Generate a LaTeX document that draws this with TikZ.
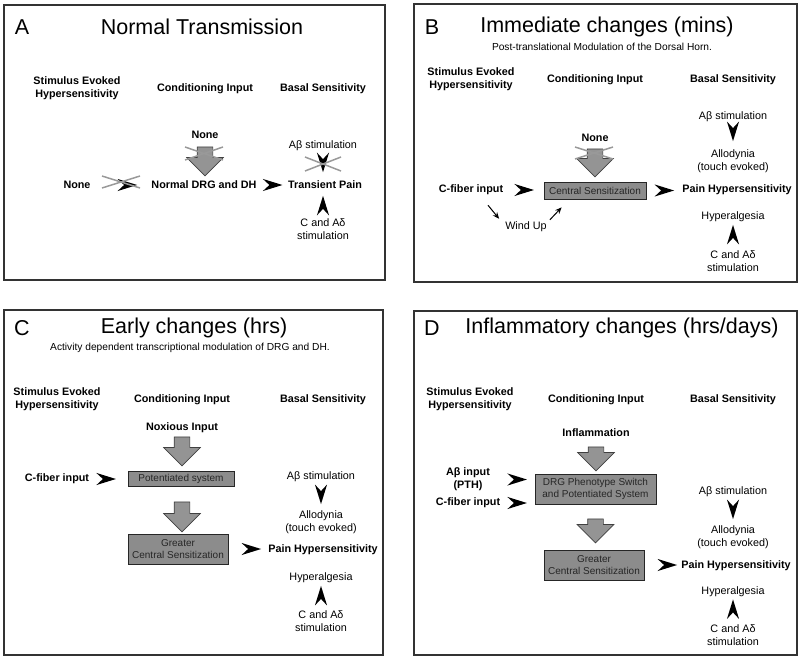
\documentclass[tikz,border=0pt]{standalone}
\usepackage{fontspec}
\setmainfont{Liberation Sans}
\usetikzlibrary{arrows.meta, shapes.arrows}

\tikzset{
	panel/.style={draw=black!80, line width=1.1pt},
	ttl/.style={font=\fontsize{21.5}{24}\selectfont, inner sep=0pt},
	subttl/.style={font=\fontsize{10.2}{12}\selectfont, inner sep=0pt},
	hdr/.style={font=\fontsize{10.8}{13}\selectfont\bfseries, align=center, inner sep=1pt},
	lbl/.style={font=\fontsize{10.8}{13}\selectfont, align=center, inner sep=1pt},
	cbox/.style={draw=black!85, fill=black!45, text=black!85, font=\fontsize{10}{12.5}\selectfont, align=center, inner sep=0pt, line width=0.8pt},
	bigarr/.style={single arrow, draw=black!75, fill=black!42, line width=0.7pt, rotate=-90, inner xsep=0pt, inner ysep=7.5pt, minimum width=36pt, minimum height=#1, single arrow head extend=10.5pt, single arrow tip angle=90},
	chev/.style={draw opacity=0, -{Stealth[length=21pt, width=13pt, inset=7pt, fill=black]}},
	smarr/.style={line width=1pt, -{Stealth[length=6.5pt, width=5.5pt]}},
	xline/.style={draw=black!40, line width=1.5pt},
}

\begin{document}
\begin{tikzpicture}[x=1pt, y=-1pt]
	\useasboundingbox (0,0) rectangle (800,661);

	% A
	\begin{scope}
		\draw[panel] (4,5) rectangle (385,280);
		\node[ttl] (a-let) at (22,27) {A};
		\node[ttl] (a-ttl) at (202,27) {Normal Transmission};
		\node[hdr] (a-sev) at (77,88.5) {Stimulus Evoked\\Hypersensitivity};
		\node[hdr] (a-cond) at (205,89) {Conditioning Input};
		\node[hdr] (a-bas) at (323,89) {Basal Sensitivity};
		\node[hdr] (a-none1) at (205,135) {None};
		\node[bigarr=29] (a-ar) at (205,157.5) {};
		\node[hdr] (a-none2) at (77,185) {None};
		\node[hdr] (a-norm) at (204,185) {Normal DRG and DH};
		\node[hdr] (a-trans) at (325,185) {Transient Pain};
		\node[lbl] (a-ab) at (323,146) {Aβ stimulation};
		\node[lbl] (a-cad) at (323,229.5) {C and Aδ\\stimulation};
		\draw[chev, shorten >=12.5pt] (a-none2) -- (a-norm);
		\draw[chev, shorten >=3.8pt] (a-norm) -- (a-trans);
		\draw[chev, shorten >=7pt] (a-ab) -- (a-ab |- a-trans.north);
		\draw[chev, shorten >=5pt] (a-cad) -- (a-cad |- a-trans.south);
		\draw[xline] (185,147) -- (223,160) (185,160) -- (223,147);
		\draw[xline] (102,176) -- (140,188) (102,188) -- (140,176);
		\draw[xline] (305,157) -- (341,171) (305,171) -- (341,157);
	\end{scope}

	% B
	\begin{scope}
		\draw[panel] (414,4) rectangle (797,282);
		\node[ttl] (b-let) at (432,27) {B};
		\node[ttl] (b-ttl) at (607,27) {Immediate changes (mins)};
		\node[subttl] (b-sub) at (602,47) {Post-translational Modulation of the Dorsal Horn.};
		\node[hdr] (b-sev) at (471,79.5) {Stimulus Evoked\\Hypersensitivity};
		\node[hdr] (b-cond) at (595,80) {Conditioning Input};
		\node[hdr] (b-bas) at (733,80) {Basal Sensitivity};
		\node[hdr] (b-none) at (595,138) {None};
		\node[bigarr=28] (b-ar) at (595,159) {};
		\node[hdr] (b-cfib) at (471,190) {C-fiber input};
		\node[cbox, minimum width=102pt, minimum height=17pt] (b-cs) at (595,190.5) {Central Sensitization};
		\node[hdr] (b-pain) at (737,190) {Pain Hypersensitivity};
		\node[lbl] (b-ab) at (733,117) {Aβ stimulation};
		\node[lbl] (b-allo) at (733,161.5) {Allodynia\\(touch evoked)};
		\node[lbl] (b-hyp) at (733,217) {Hyperalgesia};
		\node[lbl] (b-cad) at (733,261) {C and Aδ\\stimulation};
		\node[lbl] (b-wind) at (526,227) {Wind Up};
		\draw[chev, shorten >=9pt] (b-cfib) -- (b-cfib -| b-cs.west);
		\draw[chev, shorten >=6.4pt] (b-cs) -- (b-cs -| b-pain.west);
		\draw[chev, shorten >=7pt] (b-ab) -- (b-allo);
		\draw[chev, shorten >=1pt] (b-cad) -- (b-hyp);
		\draw[smarr] ([shift={(17,9)}]b-cfib.south) -- ([shift={(-5,-2)}]b-wind.north west);
		\draw[smarr] ([shift={(2,-1)}]b-wind.north east) -- ([shift={(18,8)}]b-cs.south west);
		\draw[xline] (575,147) -- (613,159) (575,159) -- (613,147);
	\end{scope}

	% C
	\begin{scope}
		\draw[panel] (4,310) rectangle (383,655);
		\node[ttl] (c-let) at (22,328) {C};
		\node[ttl] (c-ttl) at (194,328) {Early changes (hrs)};
		\node[subttl] (c-sub) at (190,348) {Activity dependent transcriptional modulation of DRG and DH.};
		\node[hdr] (c-sev) at (57,399.5) {Stimulus Evoked\\Hypersensitivity};
		\node[hdr] (c-cond) at (182,400) {Conditioning Input};
		\node[hdr] (c-bas) at (323,400) {Basal Sensitivity};
		\node[hdr] (c-nox) at (182,428) {Noxious Input};
		\node[bigarr=29] (c-ar1) at (182,447.5) {};
		\node[hdr] (c-cfib) at (57,479) {C-fiber input};
		\node[cbox, minimum width=106pt, minimum height=15pt] (c-pot) at (181,478.5) {Potentiated system};
		\node[bigarr=30] (c-ar2) at (182,513) {};
		\node[cbox, minimum width=100pt, minimum height=30pt] (c-gcs) at (178,549) {Greater\\Central Sensitization};
		\node[hdr] (c-pain) at (323,550) {Pain Hypersensitivity};
		\node[lbl] (c-ab) at (321,477) {Aβ stimulation};
		\node[lbl] (c-allo) at (321,522) {Allodynia\\(touch evoked)};
		\node[lbl] (c-hyp) at (321,578) {Hyperalgesia};
		\node[lbl] (c-cad) at (321,621.5) {C and Aδ\\stimulation};
		\draw[chev, shorten >=11pt] (c-cfib) -- (c-cfib -| c-pot.west);
		\draw[chev, shorten >=5.4pt] (c-gcs) -- (c-gcs -| c-pain.west);
		\draw[chev, shorten >=4.5pt] (c-ab) -- (c-allo);
		\draw[chev, shorten >=1pt] (c-cad) -- (c-hyp);
	\end{scope}

	% D
	\begin{scope}
		\draw[panel] (414,311) rectangle (797,655);
		\node[ttl] (d-let) at (432,328) {D};
		\node[ttl] (d-ttl) at (622,328) {Inflammatory changes (hrs/days)};
		\node[hdr] (d-sev) at (470,399.5) {Stimulus Evoked\\Hypersensitivity};
		\node[hdr] (d-cond) at (596,400) {Conditioning Input};
		\node[hdr] (d-bas) at (733,400) {Basal Sensitivity};
		\node[hdr] (d-infl) at (596,433) {Inflammation};
		\node[bigarr=24] (d-ar1) at (596,455) {};
		\node[hdr] (d-abin) at (468,479.5) {Aβ input\\(PTH)};
		\node[hdr] (d-cfib) at (468,503) {C-fiber input};
		\node[cbox, minimum width=121pt, minimum height=30pt] (d-drg) at (595.5,489) {DRG Phenotype Switch\\and Potentiated System};
		\node[bigarr=24] (d-ar2) at (595.5,527) {};
		\node[cbox, minimum width=100pt, minimum height=30pt] (d-gcs) at (594,565) {Greater\\Central Sensitization};
		\node[hdr] (d-pain) at (736,566) {Pain Hypersensitivity};
		\node[lbl] (d-ab) at (733,492) {Aβ stimulation};
		\node[lbl] (d-allo) at (733,537) {Allodynia\\(touch evoked)};
		\node[lbl] (d-hyp) at (733,592) {Hyperalgesia};
		\node[lbl] (d-cad) at (733,635.5) {C and Aδ\\stimulation};
		\draw[chev, shorten >=7pt] (d-abin.east) -- (d-abin.east -| d-drg.west);
		\draw[chev, shorten >=7pt] (d-cfib) -- (d-cfib -| d-drg.west);
		\draw[chev, shorten >=2.4pt] (d-gcs) -- (d-gcs -| d-pain.west);
		\draw[chev, shorten >=4.5pt] (d-ab) -- (d-allo);
		\draw[chev, shorten >=0.5pt] (d-cad) -- (d-hyp);
	\end{scope}
\end{tikzpicture}
\end{document}
